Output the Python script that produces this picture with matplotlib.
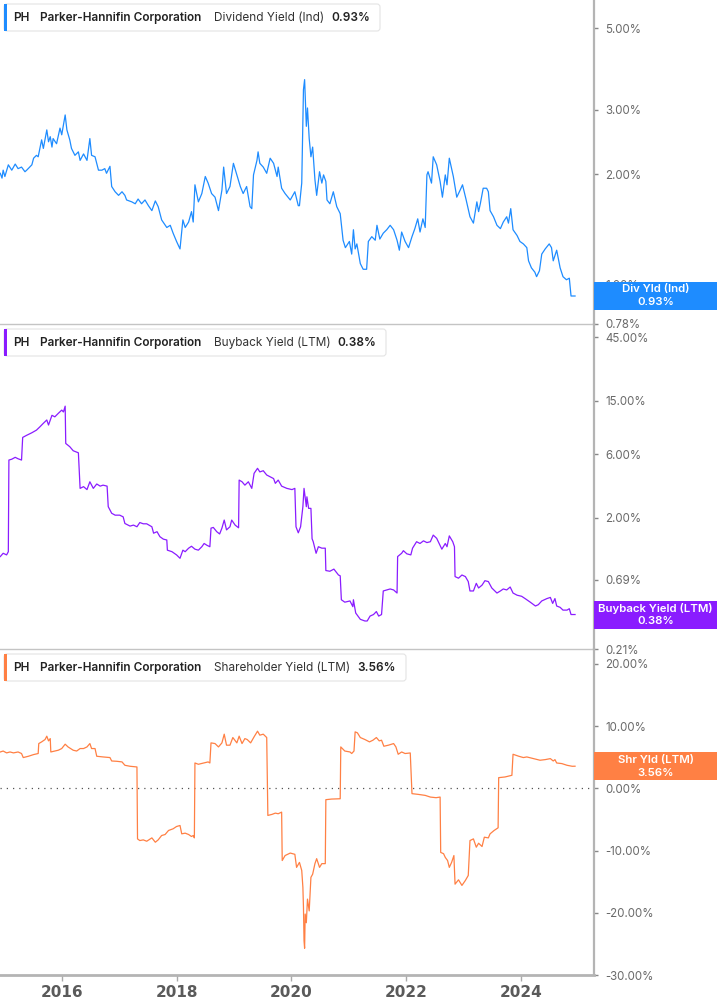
import matplotlib.pyplot as plt
from matplotlib.patches import Rectangle, FancyBboxPatch
from matplotlib.ticker import FixedLocator, NullLocator, FuncFormatter
from matplotlib.transforms import IdentityTransform

# ---- data (dates as decimal years, yields in %) ----
div_dates = [2014.93, 2014.96, 2014.98, 2015.01, 2015.07, 2015.13, 2015.19, 2015.24, 2015.30, 2015.36,
             2015.39, 2015.48, 2015.51, 2015.56, 2015.59, 2015.65, 2015.68, 2015.74, 2015.77, 2015.80,
             2015.83, 2015.85, 2015.91, 2015.97, 2016.00, 2016.06, 2016.09, 2016.14, 2016.17, 2016.23,
             2016.29, 2016.32, 2016.38, 2016.44, 2016.49, 2016.52, 2016.58, 2016.64, 2016.70, 2016.75,
             2016.78, 2016.84, 2016.87, 2016.93, 2016.99, 2017.05, 2017.10, 2017.13, 2017.22, 2017.28,
             2017.33, 2017.39, 2017.45, 2017.51, 2017.57, 2017.63, 2017.68, 2017.74, 2017.83, 2017.89,
             2017.94, 2018.00, 2018.06, 2018.11, 2018.15, 2018.21, 2018.26, 2018.29, 2018.32, 2018.38,
             2018.44, 2018.50, 2018.55, 2018.61, 2018.67, 2018.73, 2018.79, 2018.82, 2018.87, 2018.93,
             2018.99, 2019.05, 2019.11, 2019.16, 2019.22, 2019.28, 2019.31, 2019.34, 2019.40, 2019.42,
             2019.45, 2019.51, 2019.57, 2019.63, 2019.69, 2019.75, 2019.77, 2019.83, 2019.89, 2019.98,
             2020.06, 2020.12,
             2020.14, 2020.18, 2020.21, 2020.23, 2020.26, 2020.28, 2020.31, 2020.34, 2020.37, 2020.41,
             2020.44, 2020.49, 2020.53, 2020.56, 2020.60, 2020.62, 2020.67, 2020.73, 2020.79, 2020.85,
             2020.90, 2020.94, 2021.01, 2021.05, 2021.08, 2021.11, 2021.14, 2021.20, 2021.25, 2021.31,
             2021.34, 2021.40, 2021.46, 2021.49, 2021.54, 2021.60, 2021.66, 2021.72, 2021.78, 2021.84,
             2021.88, 2021.92, 2021.98, 2022.04, 2022.10, 2022.15, 2022.20, 2022.24, 2022.29, 2022.33,
             2022.36, 2022.38, 2022.44, 2022.47, 2022.53, 2022.59, 2022.63, 2022.68, 2022.71, 2022.75,
             2022.79, 2022.82, 2022.88, 2022.94, 2022.98, 2023.04, 2023.11, 2023.17, 2023.23, 2023.26,
             2023.29, 2023.34, 2023.40, 2023.43, 2023.46, 2023.52, 2023.58, 2023.64, 2023.69, 2023.75,
             2023.78, 2023.82, 2023.86, 2023.93, 2023.98, 2024.04, 2024.10, 2024.13, 2024.18, 2024.24,
             2024.27, 2024.32, 2024.36, 2024.42, 2024.49, 2024.53, 2024.56, 2024.62, 2024.68, 2024.73,
             2024.79, 2024.84, 2024.87, 2024.94]
div_yield = [2.01, 1.95, 2.05, 1.97, 2.12, 2.05, 2.13, 2.07, 2.09, 2.03,
             2.05, 2.12, 2.21, 2.25, 2.23, 2.48, 2.35, 2.64, 2.45, 2.53,
             2.37, 2.50, 2.42, 2.67, 2.56, 2.90, 2.64, 2.48, 2.35, 2.25,
             2.30, 2.18, 2.27, 2.18, 2.50, 2.25, 2.23, 2.05, 2.05, 2.07,
             2.01, 2.10, 1.85, 1.79, 1.75, 1.79, 1.75, 1.70, 1.68, 1.66,
             1.71, 1.66, 1.70, 1.64, 1.59, 1.69, 1.63, 1.50, 1.43, 1.45,
             1.38, 1.31, 1.25, 1.50, 1.43, 1.48, 1.58, 1.48, 1.87, 1.68,
             1.77, 1.97, 1.89, 1.77, 1.73, 1.59, 1.81, 2.09, 1.77, 1.85,
             2.14, 1.99, 1.85, 1.77, 1.85, 1.63, 1.61, 1.99, 2.18, 2.30,
             2.14, 2.09, 2.01, 2.21, 2.14, 1.97, 2.09, 1.83, 1.77, 1.70,
             1.79, 1.64,
             1.64, 1.89, 3.40, 3.62, 2.70, 3.03, 2.50, 2.23, 2.37, 1.93,
             1.75, 2.03, 1.89, 1.99, 1.91, 1.70, 1.66, 1.79, 1.63, 1.56,
             1.32, 1.26, 1.31, 1.21, 1.41, 1.25, 1.29, 1.14, 1.10, 1.10,
             1.31, 1.35, 1.32, 1.45, 1.33, 1.38, 1.41, 1.45, 1.41, 1.32,
             1.24, 1.39, 1.31, 1.26, 1.35, 1.42, 1.51, 1.39, 1.51, 1.43,
             1.99, 2.03, 1.89, 2.23, 2.12, 1.91, 1.73, 1.99, 1.87, 2.21,
             2.07, 1.97, 1.73, 1.81, 1.87, 1.71, 1.53, 1.47, 1.68, 1.58,
             1.66, 1.83, 1.83, 1.79, 1.59, 1.53, 1.45, 1.42, 1.48, 1.53,
             1.47, 1.61, 1.41, 1.36, 1.31, 1.29, 1.26, 1.16, 1.11, 1.08,
             1.05, 1.09, 1.21, 1.25, 1.29, 1.26, 1.16, 1.24, 1.11, 1.05,
             1.03, 1.04, 0.93, 0.93]

bb_dates = [2014.93, 2014.98, 2015.04, 2015.07, 2015.08, 2015.13, 2015.19, 2015.24, 2015.30, 2015.32,
            2015.39, 2015.48, 2015.56, 2015.62, 2015.68, 2015.74, 2015.77, 2015.83, 2015.88, 2015.94,
            2016.00, 2016.03, 2016.06, 2016.07, 2016.14, 2016.20, 2016.29, 2016.32, 2016.38, 2016.44,
            2016.49, 2016.55, 2016.61, 2016.67, 2016.72, 2016.79, 2016.81, 2016.87, 2016.93, 2017.01,
            2017.07, 2017.10, 2017.19, 2017.25, 2017.31, 2017.36, 2017.42, 2017.48, 2017.57, 2017.60,
            2017.66, 2017.71, 2017.77, 2017.83, 2017.84, 2017.92, 2018.00, 2018.06, 2018.11, 2018.15,
            2018.21, 2018.26, 2018.32, 2018.38, 2018.44, 2018.48, 2018.53, 2018.58, 2018.60, 2018.64,
            2018.70, 2018.75, 2018.79, 2018.83, 2018.87, 2018.93, 2018.96, 2019.02, 2019.08, 2019.09,
            2019.14, 2019.19, 2019.25, 2019.31, 2019.35, 2019.41, 2019.45, 2019.51, 2019.57, 2019.63,
            2019.69, 2019.72, 2019.77, 2019.83, 2019.92, 2020.01, 2020.06,
            2020.08, 2020.12, 2020.16, 2020.20, 2020.22, 2020.26, 2020.27, 2020.30, 2020.34, 2020.36,
            2020.38, 2020.43, 2020.47, 2020.53, 2020.59, 2020.60, 2020.67, 2020.74, 2020.82, 2020.85,
            2020.87, 2020.93, 2021.02, 2021.07, 2021.08, 2021.12, 2021.20, 2021.28, 2021.32, 2021.37,
            2021.43, 2021.48, 2021.52, 2021.57, 2021.60, 2021.66, 2021.72, 2021.78, 2021.84, 2021.85,
            2021.92, 2021.95, 2022.01, 2022.08, 2022.11, 2022.18, 2022.24, 2022.30, 2022.36, 2022.42,
            2022.47, 2022.53, 2022.62, 2022.68, 2022.71, 2022.75, 2022.81, 2022.84, 2022.85, 2022.91,
            2022.97, 2023.03, 2023.08, 2023.11, 2023.17, 2023.22, 2023.26, 2023.32, 2023.37, 2023.43,
            2023.49, 2023.58, 2023.64, 2023.69, 2023.75, 2023.81, 2023.86, 2023.93, 2024.01, 2024.07,
            2024.16, 2024.25, 2024.30, 2024.36, 2024.45, 2024.51, 2024.55, 2024.59, 2024.62, 2024.68,
            2024.73, 2024.80, 2024.84, 2024.87, 2024.94]
bb_yield = [1.03, 1.09, 1.06, 1.12, 5.42, 5.50, 5.68, 5.54, 5.42, 8.00,
            8.30, 8.67, 9.07, 9.60, 10.2, 10.8, 9.90, 11.7, 11.4, 12.1,
            12.8, 12.4, 13.7, 7.21, 6.82, 6.36, 6.14, 3.33, 3.43, 3.26,
            3.73, 3.33, 3.59, 3.46, 3.52, 3.46, 2.43, 2.17, 2.10, 2.10,
            2.04, 1.82, 1.74, 1.77, 1.72, 1.85, 1.81, 1.81, 1.72, 1.54,
            1.58, 1.45, 1.39, 1.37, 1.15, 1.12, 1.06, 1.00, 1.15, 1.12,
            1.19, 1.23, 1.17, 1.15, 1.22, 1.29, 1.25, 1.22, 1.68, 1.70,
            1.58, 1.52, 1.68, 1.93, 1.63, 1.72, 1.93, 1.77, 1.69, 3.84,
            3.73, 3.52, 3.73, 3.33, 4.31, 4.70, 4.42, 4.51, 4.19, 4.06,
            3.94, 3.63, 3.84, 3.46, 3.33, 3.26, 3.33,
            1.72, 1.55, 1.72, 2.43, 3.33, 2.43, 2.88, 2.36, 2.36, 1.40,
            1.33, 1.09, 1.22, 1.19, 1.19, 0.81, 0.80, 0.83, 0.75, 0.74,
            0.49, 0.47, 0.48, 0.435, 0.49, 0.39, 0.35, 0.34, 0.34, 0.37,
            0.38, 0.40, 0.37, 0.38, 0.57, 0.58, 0.59, 0.58, 0.55, 1.03,
            1.09, 1.14, 1.08, 1.06, 1.19, 1.33, 1.29, 1.35, 1.31, 1.33,
            1.49, 1.41, 1.17, 1.29, 1.22, 1.47, 1.33, 1.22, 0.73, 0.71,
            0.75, 0.73, 0.67, 0.57, 0.57, 0.65, 0.60, 0.63, 0.68, 0.67,
            0.60, 0.55, 0.57, 0.59, 0.58, 0.61, 0.55, 0.53, 0.52, 0.50,
            0.47, 0.44, 0.45, 0.48, 0.50, 0.51, 0.46, 0.50, 0.44, 0.43,
            0.41, 0.41, 0.42, 0.38, 0.38]

shr_dates = [2014.93, 2014.98, 2015.04, 2015.10, 2015.16, 2015.24, 2015.30, 2015.33, 2015.42, 2015.51,
             2015.59, 2015.60, 2015.65, 2015.71, 2015.74, 2015.77, 2015.80, 2015.81, 2015.88, 2015.94,
             2016.00, 2016.06, 2016.11, 2016.20, 2016.26, 2016.32, 2016.38, 2016.44, 2016.49, 2016.52,
             2016.58, 2016.61, 2016.72, 2016.84, 2016.87, 2016.96, 2017.05, 2017.10, 2017.19, 2017.31,
             2017.32, 2017.36, 2017.42, 2017.48, 2017.57, 2017.63, 2017.68, 2017.74, 2017.80, 2017.86,
             2017.94, 2018.00, 2018.06, 2018.09, 2018.15, 2018.21, 2018.26, 2018.29, 2018.31, 2018.32,
             2018.38, 2018.47, 2018.55, 2018.58, 2018.60, 2018.67, 2018.73, 2018.79, 2018.83, 2018.87,
             2018.93, 2018.98, 2019.05, 2019.09, 2019.14, 2019.19, 2019.23, 2019.29, 2019.35, 2019.41,
             2019.45, 2019.51, 2019.57, 2019.59, 2019.66, 2019.72, 2019.77, 2019.83, 2019.84, 2019.89,
             2019.98, 2020.06, 2020.09, 2020.14,
             2020.18, 2020.20, 2020.21, 2020.22, 2020.23, 2020.24, 2020.26, 2020.28, 2020.31, 2020.34,
             2020.37, 2020.41, 2020.44, 2020.49, 2020.53, 2020.59, 2020.60, 2020.70, 2020.85, 2020.86,
             2020.93, 2021.02, 2021.05, 2021.09, 2021.11, 2021.15, 2021.20, 2021.28, 2021.36, 2021.42,
             2021.48, 2021.53, 2021.57, 2021.61, 2021.69, 2021.78, 2021.82, 2021.86, 2021.92, 2021.98,
             2022.07, 2022.10, 2022.21, 2022.33, 2022.42, 2022.52, 2022.59, 2022.60, 2022.65, 2022.68,
             2022.72, 2022.75, 2022.79, 2022.83, 2022.85, 2022.91, 2022.97, 2023.03, 2023.08, 2023.11,
             2023.17, 2023.22, 2023.26, 2023.32, 2023.36, 2023.43, 2023.46, 2023.53, 2023.60, 2023.61,
             2023.72, 2023.84, 2023.86, 2023.96, 2024.04, 2024.10, 2024.22, 2024.33, 2024.42, 2024.51,
             2024.56, 2024.59, 2024.62, 2024.71, 2024.80, 2024.89, 2024.94]
shr_yield = [5.85, 6.00, 5.70, 5.85, 5.70, 5.85, 5.60, 4.95, 5.16, 5.43,
             5.60, 7.20, 7.47, 7.85, 8.39, 7.63, 8.00, 5.85, 6.00, 6.13,
             6.40, 7.10, 6.66, 6.13, 6.00, 6.40, 6.40, 6.66, 7.20, 6.40,
             6.40, 5.16, 5.05, 4.95, 4.40, 4.35, 4.25, 3.71, 3.55, 3.44,
             -8.12, -8.39, -8.28, -8.50, -7.96, -8.66, -8.28, -7.58, -7.42, -6.77,
             -6.50, -6.13, -5.97, -7.31, -7.20, -7.42, -7.74, -7.58, -7.96, 4.08,
             3.87, 4.08, 4.25, 4.08, 7.31, 7.20, 6.66, 7.31, 8.71, 6.94,
             6.94, 8.17, 7.31, 8.39, 7.20, 8.00, 7.85, 7.31, 8.28, 9.19,
             8.55, 8.71, 8.17, -4.35, -4.19, -3.98, -4.08, -3.82, -11.6, -10.8,
             -10.4, -10.6, -12.7, -11.9,
             -13.2, -15.9, -19.1, -24.5, -25.7, -20.2, -21.6, -17.8, -19.7, -14.3,
             -13.8, -12.1, -11.3, -12.7, -12.1, -12.1, -1.82, -1.72, -1.67, 6.66,
             6.00, 5.85, 5.60, 6.00, 9.08, 8.92, 8.17, 7.85, 7.47, 7.74,
             8.17, 7.63, 7.74, 6.77, 6.94, 7.20, 6.66, 5.48, 5.85, 5.60,
             5.69, -0.85, -0.97, -1.13, -1.40, -1.50, -1.40, -10.3, -10.5, -11.1,
             -11.6, -12.7, -11.9, -10.8, -15.4, -14.7, -15.6, -14.8, -14.0, -8.39,
             -8.12, -9.46, -8.82, -9.35, -7.85, -7.96, -7.31, -6.77, -6.34, 1.72,
             1.83, 2.10, 5.48, 5.16, 4.95, 5.05, 4.78, 4.52, 4.62, 4.78,
             4.40, 4.62, 4.08, 3.98, 3.71, 3.55, 3.56]

div_ticks = [0.78, 1.0, 2.0, 3.0, 5.0]
bb_ticks = [0.21, 0.69, 2.0, 6.0, 15.0, 45.0]
shr_ticks = [-30, -20, -10, 0, 10, 20]
year_ticks = [2016, 2018, 2020, 2022, 2024]

BLUE = '#1E8CFF'
PURPLE = '#8A1CFF'
ORANGE = '#FF8044'

W, H = 717, 1005
fig = plt.figure(figsize=(W / 100, H / 100), dpi=100)
plt.rcParams['font.family'] = ['Inter', 'DejaVu Sans']

AX_RIGHT = 594


def make_ax(top, bottom):
    return fig.add_axes([0, 1 - bottom / H, AX_RIGHT / W, (bottom - top) / H])


ax1 = make_ax(0, 324)
ax2 = make_ax(324, 649)
ax3 = make_ax(649, 975)

ax1.plot(div_dates, div_yield, color=BLUE, lw=0.9)
ax2.plot(bb_dates, bb_yield, color=PURPLE, lw=0.9)
ax3.plot(shr_dates, shr_yield, color=ORANGE, lw=0.9)
ax3.axhline(0, color='#555555', lw=0.9, linestyle=(0, (1, 4)), zorder=1)

ax1.set_yscale('log')
ax2.set_yscale('log')
ax1.set_ylim(0.78, 5.97)
ax2.set_ylim(0.21, 56.3)
ax3.set_ylim(-30, 22.4)

pct = FuncFormatter(lambda v, p: f'{v:.2f}%')
for ax, ticks in [(ax1, div_ticks), (ax2, bb_ticks), (ax3, shr_ticks)]:
    ax.set_xlim(2014.925, 2025.27)
    ax.yaxis.tick_right()
    ax.yaxis.set_major_locator(FixedLocator(ticks))
    ax.yaxis.set_minor_locator(NullLocator())
    ax.yaxis.set_major_formatter(pct)
    ax.tick_params(axis='y', direction='out', length=3, width=1, color='#888888',
                   labelsize=8.3, labelcolor='#6a6a6a', pad=5)
    for s in ['top', 'left']:
        ax.spines[s].set_visible(False)
    ax.spines['right'].set_color('#b4b4b4')
    ax.spines['right'].set_linewidth(1.6)
    ax.spines['bottom'].set_color('#c4c4c4')
    ax.spines['bottom'].set_linewidth(1.0)
    ax.set_facecolor('none')

for ax in [ax1, ax2]:
    ax.set_xticks([])

ax3.spines['bottom'].set_color('#b4b4b4')
ax3.spines['bottom'].set_linewidth(2.0)
ax3.set_xticks(year_ticks)
ax3.set_xticklabels([str(y) for y in year_ticks])
ax3.tick_params(axis='x', direction='out', length=4, width=1, color='#aaaaaa',
                labelsize=11, labelcolor='#5a5a5a', pad=3)
for lab in ax3.get_xticklabels():
    lab.set_family(['Liberation Sans Narrow', 'DejaVu Sans'])
    lab.set_fontweight('bold')

pix = IdentityTransform()
LEG_FS = 8.5


def legend_box(top, right, color, metric, value, metric_x, value_x):
    bottom = top + 27
    fig.add_artist(FancyBboxPatch((4, H - bottom), right - 4, 27, transform=pix,
                                  boxstyle='round,pad=0,rounding_size=3',
                                  facecolor='white', edgecolor='#e4e4e4', lw=0.8, zorder=4))
    fig.add_artist(Rectangle((4, H - bottom), 3, 27, transform=pix,
                             facecolor=color, edgecolor='none', zorder=5))
    yc = H - (top + 13.5)
    fig.text(13, yc, 'PH', transform=pix, va='center', ha='left', fontsize=LEG_FS,
             fontweight='semibold', color='#222222', zorder=6)
    fig.text(40, yc, 'Parker-Hannifin Corporation', transform=pix, va='center', ha='left',
             fontsize=LEG_FS, fontweight='semibold', color='#222222', zorder=6)
    fig.text(metric_x, yc, metric, transform=pix, va='center', ha='left', fontsize=LEG_FS,
             color='#333333', zorder=6)
    fig.text(value_x, yc, value, transform=pix, va='center', ha='left', fontsize=LEG_FS,
             fontweight='semibold', color='#222222', zorder=6)


legend_box(4, 380, BLUE, 'Dividend Yield (Ind)', f'{div_yield[-1]:.2f}%', 214, 331)
legend_box(329, 386, PURPLE, 'Buyback Yield (LTM)', f'{bb_yield[-1]:.2f}%', 214, 337)
legend_box(654, 406, ORANGE, 'Shareholder Yield (LTM)', f'{shr_yield[-1]:.2f}%', 214, 357)


def badge(ax, t, v, label, color):
    _, yd = ax.transData.transform((t, v))
    fig.add_artist(Rectangle((AX_RIGHT, yd - 14), W - AX_RIGHT, 28, transform=pix,
                             facecolor=color, edgecolor='none', zorder=5))
    xc = (AX_RIGHT + W) / 2
    fig.text(xc, yd + 6.5, label, transform=pix, ha='center', va='center', fontsize=8.2,
             fontweight='semibold', color='white', zorder=6)
    fig.text(xc, yd - 6.5, f'{v:.2f}%', transform=pix, ha='center', va='center', fontsize=8.2,
             fontweight='semibold', color='white', zorder=6)


badge(ax1, div_dates[-1], div_yield[-1], 'Div Yld (Ind)', BLUE)
badge(ax2, bb_dates[-1], bb_yield[-1], 'Buyback Yield (LTM)', PURPLE)
badge(ax3, shr_dates[-1], shr_yield[-1], 'Shr Yld (LTM)', ORANGE)

fig.savefig('out.png', dpi=100)
